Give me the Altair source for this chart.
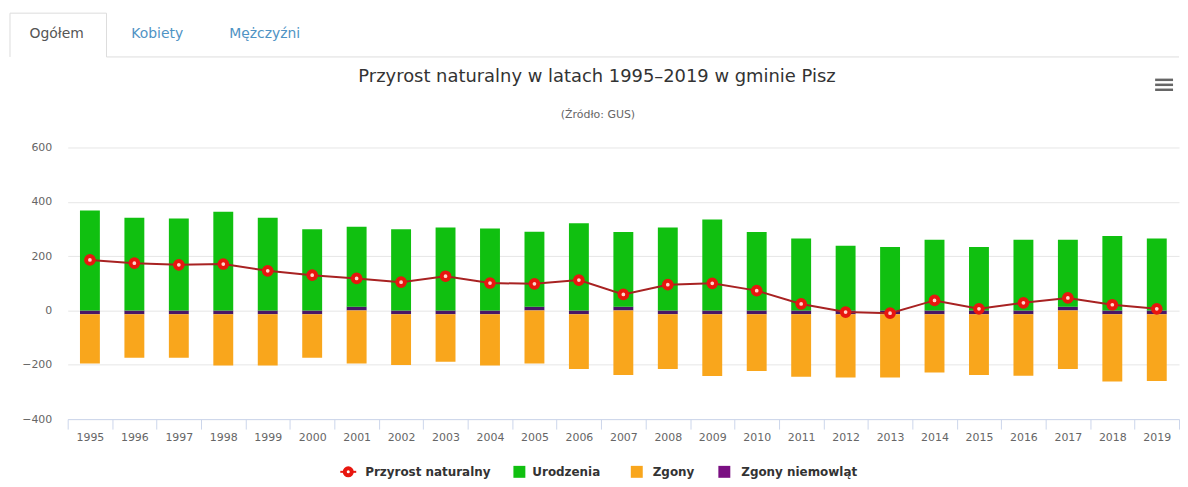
import altair as alt
import pandas as pd

# ---- data ----
years = ["1995", "1996", "1997", "1998", "1999", "2000", "2001", "2002", "2003",
         "2004", "2005", "2006", "2007", "2008", "2009", "2010", "2011", "2012",
         "2013", "2014", "2015", "2016", "2017", "2018", "2019"]
urodzenia = [368, 341, 339, 363, 341, 299, 294, 299, 305, 302, 276, 321, 275,
             305, 335, 289, 265, 238, 234, 260, 234, 260, 246, 274, 265]
zgony = [-181, -160, -160, -189, -189, -160, -195, -187, -175, -189, -195, -202, -238,
         -202, -227, -209, -230, -233, -233, -214, -224, -226, -216, -248, -246]
zgony_niemowlat = [-14, -14, -14, -14, -14, -14, 14, -14, -14, -14, 14, -14, 14,
                   -14, -14, -14, -14, -14, -14, -14, -14, -14, 14, -14, -14]
przyrost = [186, 174, 168, 171, 146, 130, 118, 104, 126, 101, 98, 112, 59,
            95, 100, 73, 24, -6, -10, 37, 6, 28, 46, 21, 6]
series_names = ["Przyrost naturalny", "Urodzenia", "Zgony", "Zgony niemowląt"]
y_ticks = [-400, -200, 0, 200, 400, 600]

FONT = "DejaVu Sans"
C_GREEN = "#10c010"
C_ORANGE = "#f9a61c"
C_PURPLE = "#4a1666"
C_PURPLE_LEG = "#7a0f82"
C_LINE = "#a82222"
C_MARK = "#e8160f"

rows = []
for i, y in enumerate(years):
    rows.append({"rok": y, "seria": series_names[3], "wartosc": zgony_niemowlat[i], "kol": 0})
    rows.append({"rok": y, "seria": series_names[1], "wartosc": urodzenia[i], "kol": 1})
    rows.append({"rok": y, "seria": series_names[2], "wartosc": zgony[i], "kol": 2})
bars_df = pd.DataFrame(rows)
line_df = pd.DataFrame({"rok": years, "przyrost": przyrost})
one = pd.DataFrame({"a": [0]})

x_enc_scale = alt.Scale(domain=years, paddingInner=0, paddingOuter=0)
x_axis = alt.Axis(title=None, labelAngle=0, tickBand="extent", tickSize=10,
                  tickColor="#ccd6eb", domainColor="#ccd6eb", labelColor="#666666",
                  labelFontSize=11, labelFont=FONT, labelPadding=3, grid=False)
y_scale = alt.Scale(domain=[-400, 600], nice=False, zero=False)
y_axis = alt.Axis(title=None, values=y_ticks, grid=True, gridColor="#e6e6e6",
                  domain=False, ticks=False, labelPadding=16, labelColor="#666666",
                  labelFontSize=11, labelFont=FONT)

bars = alt.Chart(bars_df).mark_bar(size=20).encode(
    x=alt.X("rok:N", scale=x_enc_scale, axis=x_axis),
    y=alt.Y("wartosc:Q", stack="zero", scale=y_scale, axis=y_axis),
    color=alt.Color("seria:N",
                    scale=alt.Scale(domain=series_names[1:], range=[C_GREEN, C_ORANGE, C_PURPLE]),
                    legend=None),
    order=alt.Order("kol:Q", sort="ascending"),
)

line = alt.Chart(line_df).mark_line(color=C_LINE, strokeWidth=2).encode(
    x=alt.X("rok:N", scale=x_enc_scale, axis=x_axis),
    y=alt.Y("przyrost:Q", scale=y_scale, axis=y_axis),
)
points = alt.Chart(line_df).mark_circle(size=60, color="#ffd6cc", opacity=1,
                                        stroke=C_MARK, strokeWidth=4).encode(
    x=alt.X("rok:N", scale=x_enc_scale, axis=x_axis),
    y=alt.Y("przyrost:Q", scale=y_scale, axis=y_axis),
)


def txt(s, x, y, size, color, weight="normal", align="center"):
    return alt.Chart(one).mark_text(text=s, font=FONT, fontSize=size, color=color,
                                    fontWeight=weight, align=align, baseline="middle").encode(
        x=alt.value(x), y=alt.value(y))


def rule(x1, x2, y1, y2, color, width=1):
    return alt.Chart(one).mark_rule(color=color, strokeWidth=width).encode(
        x=alt.value(x1), x2=alt.value(x2), y=alt.value(y1), y2=alt.value(y2))


def rect(x1, x2, y1, y2, color):
    return alt.Chart(one).mark_rect(color=color).encode(
        x=alt.value(x1), x2=alt.value(x2), y=alt.value(y1), y2=alt.value(y2))


deco = [
    # tabs
    rule(-58, -58, -135, -91, "#dddddd"),
    rule(-58, 39, -135, -135, "#dddddd"),
    rule(39, 39, -135, -91, "#dddddd"),
    rule(39, 1117, -91, -91, "#dddddd"),
    txt("Ogółem", -11, -114, 14, "#555555"),
    txt("Kobiety", 90, -114, 14, "#4f93c4"),
    txt("Mężczyźni", 198, -114, 14, "#4f93c4"),
    # title / subtitle
    txt("Przyrost naturalny w latach 1995–2019 w gminie Pisz", 532, -71, 18, "#333333"),
    txt("(Źródło: GUS)", 533, -33, 11, "#666666"),
    # menu icon
    rule(1093, 1111, -68, -68, "#666666", 2.5),
    rule(1093, 1111, -63, -63, "#666666", 2.5),
    rule(1093, 1111, -58, -58, "#666666", 2.5),
    # legend
    rule(274, 290, 326, 326, C_MARK, 2),
    alt.Chart(one).mark_circle(size=50, color="#ffffff", opacity=1, stroke=C_MARK,
                               strokeWidth=4).encode(x=alt.value(282), y=alt.value(326)),
    txt("Przyrost naturalny", 299, 326, 12, "#333333", "bold", "left"),
    rect(448, 460, 320, 332, C_GREEN),
    txt("Urodzenia", 467, 326, 12, "#333333", "bold", "left"),
    rect(566, 578, 320, 332, C_ORANGE),
    txt("Zgony", 588, 326, 12, "#333333", "bold", "left"),
    rect(654, 666, 320, 332, C_PURPLE_LEG),
    txt("Zgony niemowląt", 677, 326, 12, "#333333", "bold", "left"),
]

chart = alt.layer(bars, line, points, *deco).properties(
    width=1117,
    height=273,
    padding={"left": 60, "top": 139, "right": 1, "bottom": 59},
    autosize=alt.AutoSizeParams(type="none"),
    background="white",
).configure_view(stroke=None)

chart.save("out.html", embed_options={"renderer": "svg", "actions": False})
